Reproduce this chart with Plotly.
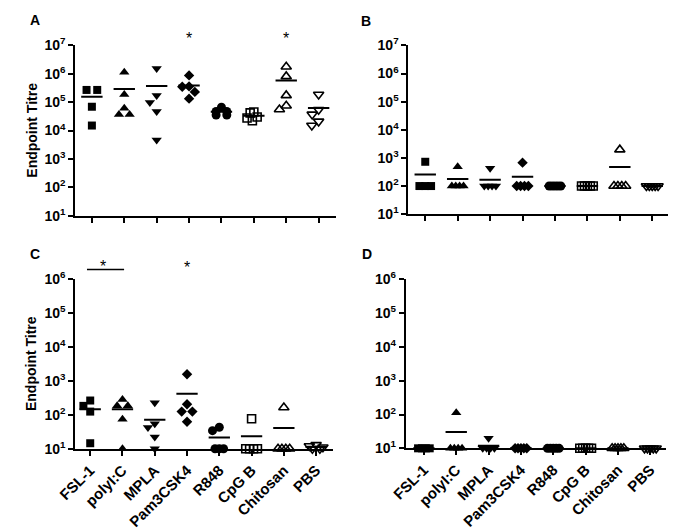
import numpy as np
import plotly.graph_objects as go

categories = ["FSL-1", "polyI:C", "MPLA", "Pam3CSK4", "R848", "CpG B", "Chitosan", "PBS"]
ytick_vals_top = [1e1, 1e2, 1e3, 1e4, 1e5, 1e6, 1e7]
ytick_text_top = ["10<sup>1</sup>", "10<sup>2</sup>", "10<sup>3</sup>", "10<sup>4</sup>",
                  "10<sup>5</sup>", "10<sup>6</sup>", "10<sup>7</sup>"]
ytick_vals_bottom = [1e1, 1e2, 1e3, 1e4, 1e5, 1e6]
ytick_text_bottom = ["10<sup>1</sup>", "10<sup>2</sup>", "10<sup>3</sup>", "10<sup>4</sup>",
                     "10<sup>5</sup>", "10<sup>6</sup>"]

# Panel A endpoint titres (one list per category)
a_values = [
    [2.7e5, 2.7e5, 6.9e4, 1.5e4],
    [1.14e6, 1.86e5, 6.1e4, 3.7e4, 3.7e4],
    [1.55e6, 1.73e5, 9.7e4, 4.7e4, 4.6e3],
    [8.8e5, 3.6e5, 3.5e5, 2.3e5, 1.33e5],
    [6.6e4, 4.7e4, 4.7e4, 3.5e4, 3.5e4],
    [4.5e4, 4.2e4, 3.0e4, 2.75e4, 2.2e4],
    [1.77e6, 8.1e5, 1.73e5, 7.5e4, 5.5e4],
    [1.86e5, 5.4e4, 3.7e4, 2.1e4, 1.5e4],
]
# Panel B
b_values = [
    [730, 100, 100, 100],
    [490, 100, 100, 100, 100],
    [430, 100, 100, 100, 100],
    [680, 100, 100, 100, 100],
    [100, 100, 100, 100, 100],
    [100, 100, 100, 100, 100],
    [1970, 100, 100, 100, 100],
    [100, 100, 100, 100, 100],
]
# Panel C
c_values = [
    [263, 183, 124, 14.5],
    [282, 183, 183, 74, 10],
    [227, 54, 42, 22, 10],
    [1570, 204, 124, 124, 62],
    [43, 34, 10, 10, 10],
    [76, 10, 10, 10, 10],
    [164, 10, 10, 10, 10],
    [13, 12, 11, 10, 10],
]
# Panel D
d_values = [
    [10, 10, 10, 10],
    [113, 10, 10, 10, 10],
    [20, 10, 10, 10, 10],
    [10, 10, 10, 10, 10],
    [10, 10, 10, 10, 10],
    [10, 10, 10, 10, 10],
    [10, 10, 10, 10, 10],
    [10, 10, 10, 10, 10],
]

# significance marks
sig_a = [3, 6]
sig_c_bracket = [0, 1]
sig_c_single = [3]

symbols = ["square", "triangle-up", "triangle-down", "diamond", "circle",
           "square-open", "triangle-up-open", "triangle-down-open"]
sizes = [8, 9, 9, 8, 9, 8, 9, 9]

W, H = 673, 530
FONT = "Arial"

panels = [
    dict(letter="A", vals=a_values, xd=[58 / W, 326 / W], xr=[-0.51, 7.53],
         yd=[1 - 214.5 / H, 1 - 37 / H], yr=[1, 7], tv=ytick_vals_top, tt=ytick_text_top,
         labels=False, title=True, lx=16, ly=10),
    dict(letter="B", vals=b_values, xd=[400.7 / W, 668 / W], xr=[-0.52, 7.49],
         yd=[1 - 213 / H, 1 - 37 / H], yr=[1, 7], tv=ytick_vals_top, tt=ytick_text_top,
         labels=False, title=False, lx=357, ly=11),
    dict(letter="C", vals=c_values, xd=[58 / W, 322.7 / W], xr=[-0.46, 7.51],
         yd=[1 - 457.7 / H, 1 - 280.7 / H], yr=[1, 6], tv=ytick_vals_bottom, tt=ytick_text_bottom,
         labels=True, title=True, lx=16, ly=255),
    dict(letter="D", vals=d_values, xd=[398 / W, 666 / W], xr=[-0.56, 7.49],
         yd=[1 - 457.3 / H, 1 - 281 / H], yr=[1, 6], tv=ytick_vals_bottom, tt=ytick_text_bottom,
         labels=True, title=False, lx=358, ly=255),
]


def swarm(vals, decade_px, cat_px, D=10.0, maxspan=12.0, cap=7.0):
    vals = list(vals)
    offs = [0.0] * len(vals)
    placed = []
    cands = [0.0]
    for s in np.arange(0.5, 30, 0.5):
        cands += [-s, s]
    for u in sorted(set(vals), reverse=True):
        idx = [i for i, v in enumerate(vals) if v == u]
        py = -np.log10(u) * decade_px
        k = len(idx)
        if k == 1:
            dx = 0.0
            for c in cands:
                if all(np.hypot(c - px, py - qy) >= D for px, qy in placed):
                    dx = c
                    break
            offs[idx[0]] = dx
            placed.append((dx, py))
        else:
            step = min(D + 1, maxspan / (k - 1))
            for j, i in enumerate(idx):
                dx = (j - (k - 1) / 2) * step
                offs[i] = dx
                placed.append((dx, py))
    offs = np.array(offs)
    m = np.abs(offs).max()
    if m > cap:
        offs = offs * cap / m
    return offs / cat_px


fig = go.Figure()
annotations = []
shapes = []

for p_i, p in enumerate(panels):
    sfx = "" if p_i == 0 else str(p_i + 1)
    xa, ya = "x" + sfx, "y" + sfx
    xpx = (p["xd"][1] - p["xd"][0]) * W
    cat_px = xpx / (p["xr"][1] - p["xr"][0])
    ypx = (p["yd"][1] - p["yd"][0]) * H
    decade_px = ypx / (p["yr"][1] - p["yr"][0])

    mx, my = [], []
    for c, vals in enumerate(p["vals"]):
        offs = swarm(vals, decade_px, cat_px)
        fig.add_trace(go.Scatter(
            x=c + offs, y=vals, mode="markers", xaxis=xa, yaxis=ya,
            cliponaxis=False, showlegend=False, hoverinfo="skip",
            marker=dict(symbol=symbols[c], size=sizes[c], color="black",
                        line=dict(color="black", width=1.6 if "open" in symbols[c] else 0)),
        ))
        m = float(np.mean(vals))
        mx += [c - 0.33, c + 0.33, None]
        my += [m, m, None]
    fig.add_trace(go.Scatter(x=mx, y=my, mode="lines", xaxis=xa, yaxis=ya, showlegend=False,
                             hoverinfo="skip", line=dict(color="black", width=2)))

    fig.layout["xaxis" + sfx] = dict(
        domain=p["xd"], range=p["xr"], anchor=ya, showgrid=False, zeroline=False,
        showline=True, linecolor="black", linewidth=2,
        tickmode="array", tickvals=list(range(len(categories))),
        ticktext=["<b>%s</b>" % t for t in categories] if p["labels"] else [""] * len(categories),
        showticklabels=p["labels"], tickangle=-45,
        ticks="outside", ticklen=5, tickwidth=1.5, tickcolor="black",
        tickfont=dict(family=FONT, size=15, color="black"),
    )
    fig.layout["yaxis" + sfx] = dict(
        domain=p["yd"], type="log", range=p["yr"], anchor=xa, showgrid=False, zeroline=False,
        showline=True, linecolor="black", linewidth=2,
        tickmode="array", tickvals=p["tv"], ticktext=["<b>%s</b>" % t for t in p["tt"]],
        ticks="outside", ticklen=5, tickwidth=1.5, tickcolor="black",
        tickfont=dict(family=FONT, size=14, color="black"),
    )

    annotations.append(dict(text="<b>%s</b>" % p["letter"], x=p["lx"] / W, y=1 - p["ly"] / H,
                            xref="paper", yref="paper",
                            showarrow=False, xanchor="center", yanchor="middle",
                            font=dict(family=FONT, size=14, color="black")))
    if p["title"]:
        annotations.append(dict(text="<b>Endpoint Titre</b>", x=12.5 / W, y=(p["yd"][0] + p["yd"][1]) / 2,
                                xref="paper", yref="paper", textangle=-90, showarrow=False,
                                xanchor="center", yanchor="middle",
                                font=dict(family=FONT, size=14, color="black")))

for c in sig_a:
    annotations.append(dict(text="*", x=c, y=1 - 30 / H, xref="x", yref="paper", showarrow=False,
                            xanchor="center", yanchor="middle",
                            font=dict(family=FONT, size=16, color="black")))
c0, c1 = sig_c_bracket
shapes.append(dict(type="line", xref="x3", yref="paper", x0=c0 - 0.1, x1=c1 + 0.05,
                   y0=1 - 270.7 / H, y1=1 - 270.7 / H, line=dict(color="black", width=1.5)))
annotations.append(dict(text="*", x=(c0 + c1) / 2 - 0.1, y=1 - 268 / H, xref="x3", yref="paper",
                        showarrow=False, xanchor="center", yanchor="middle",
                        font=dict(family=FONT, size=16, color="black")))
for c in sig_c_single:
    annotations.append(dict(text="*", x=c, y=1 - 269 / H, xref="x3", yref="paper", showarrow=False,
                            xanchor="center", yanchor="middle",
                            font=dict(family=FONT, size=16, color="black")))

fig.update_layout(width=W, height=H, margin=dict(l=0, r=0, t=0, b=0),
                  plot_bgcolor="white", paper_bgcolor="white",
                  annotations=annotations, shapes=shapes, hovermode=False,
                  font=dict(family=FONT, color="black"))

fig.write_html("out.html", config={"displayModeBar": False},
               post_script="document.body.style.margin='0';document.body.style.padding='0';")
